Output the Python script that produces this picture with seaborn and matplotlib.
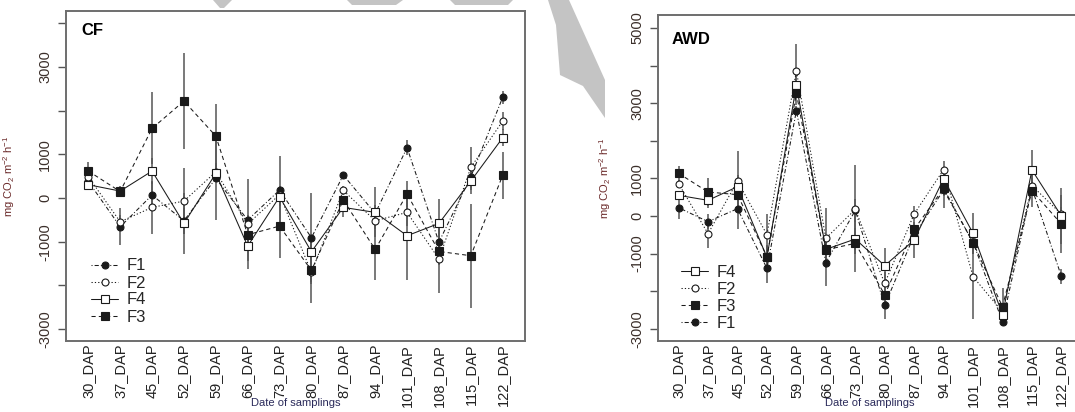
import numpy as np
import pandas as pd
import seaborn as sns
import matplotlib.pyplot as plt
from matplotlib.lines import Line2D
from matplotlib.patches import Polygon

days = ['30_DAP', '37_DAP', '45_DAP', '52_DAP', '59_DAP', '66_DAP', '73_DAP',
        '80_DAP', '87_DAP', '94_DAP', '101_DAP', '108_DAP', '115_DAP', '122_DAP']

# CF panel, mg CO2 m-2 h-1
cf_f1 = [380, -656, 69, -520, 450, -503, 183, -907, 526, -350, 1152, -1007, 488, 2303]
cf_f2 = [488, -542, -213, -69, 600, -595, 80, -1700, 175, -519, -328, -1396, 701, 1762]
cf_f3 = [618, 150, 1594, 2219, 1419, -839, -641, -1655, -46, -1175, 92, -1221, -1319, 519]
cf_f4 = [305, 160, 618, -580, 564, -1098, 30, -1228, -213, -328, -862, -580, 389, 1380]
cf_f1_err = [100, 420, 300, 300, 950, 940, 790, 1015, 80, 200, 175, 300, 300, 150]
cf_f2_err = [100, 150, 610, 750, 200, 200, 200, 690, 100, 200, 300, 765, 460, 200]
cf_f3_err = [210, 100, 825, 1100, 725, 200, 740, 300, 100, 700, 300, 300, 1190, 540]
cf_f4_err = [100, 120, 300, 690, 200, 535, 200, 300, 215, 570, 1015, 565, 300, 200]

# AWD panel
awd_f1 = [222, -151, 195, -1392, 2802, -1241, 150, -2376, -505, 692, -700, -2811, 740, -1605]
awd_f2 = [860, -470, 931, -496, 3857, -594, 177, -1791, 53, 1233, -1614, -2550, 807, 50]
awd_f3 = [1135, 638, 568, -1082, 3263, -900, -727, -2093, -355, 736, -709, -2412, 674, -213]
awd_f4 = [550, 417, 780, -1100, 3476, -887, -612, -1321, -638, 993, -461, -2625, 1224, 0]
awd_f1_err = [310, 200, 550, 400, 115, 620, 300, 365, 200, 470, 300, 90, 200, 190]
awd_f2_err = [100, 390, 800, 540, 720, 800, 1180, 300, 215, 230, 1125, 200, 200, 200]
awd_f3_err = [205, 380, 300, 300, 300, 300, 755, 300, 200, 200, 300, 505, 445, 780]
awd_f4_err = [100, 200, 300, 300, 300, 300, 300, 480, 490, 200, 550, 200, 530, 754]

sns.set_theme(style='white')
plt.rcParams['font.family'] = ['Liberation Sans', 'DejaVu Sans']
plt.rcParams['mathtext.default'] = 'regular'

ink = '#1a1a1a'
styles = {
    'F1': dict(linestyle=(0, (1, 2, 4, 2)), marker='o', markersize=5, markerfacecolor=ink),
    'F2': dict(linestyle=(0, (1.2, 2)), marker='o', markersize=5, markerfacecolor='white'),
    'F3': dict(linestyle=(0, (4, 3)), marker='s', markersize=5.5, markerfacecolor=ink),
    'F4': dict(linestyle='-', marker='s', markersize=5.5, markerfacecolor='white'),
}


def draw_panel(ax, vals, errs, title, title_xy, order, ylim, yticks, ylabels, leg_anchor):
    x = np.arange(len(days))
    for name in vals:
        v = np.array(vals[name])
        e = np.array(errs[name])
        ax.vlines(x, v - e, v + e, color='#555555', lw=1.1, zorder=1)
    for name in ['F1', 'F2', 'F4', 'F3']:
        df = pd.DataFrame({'pos': x, 'flux': vals[name]})
        sns.lineplot(data=df, x='pos', y='flux', ax=ax, color=ink, linewidth=0.75,
                     markeredgecolor=ink, markeredgewidth=0.8, errorbar=None,
                     sort=False, zorder=3, **styles[name])
    ax.set_xlim(-0.7, 13.7)
    ax.set_ylim(*ylim)
    ax.set_xticks(x)
    ax.set_xticklabels(days, rotation=90, va='top', ha='center')
    ax.set_yticks(yticks)
    ax.set_yticklabels(ylabels, rotation=90, va='center')
    ax.tick_params(axis='y', length=6, width=1, color='#555555', pad=4,
                   labelsize=10.5, labelcolor='#3b2f2a', left=True)
    ax.tick_params(axis='x', length=0, pad=2, labelsize=10.5, labelcolor='#222222')
    for sp in ax.spines.values():
        sp.set_visible(True)
        sp.set_color('#6e6e6e')
        sp.set_linewidth(1.4)
    ax.set_ylabel(r'mg CO$_2$ m$^{-2}$ h$^{-1}$', fontsize=8, color='#6b2a2a')
    ax.yaxis.set_label_coords(-0.107, 0.5)
    ax.set_xlabel('Date of samplings', fontsize=8, color='#2a2a5a')
    ax.xaxis.set_label_coords(0.5, -0.172)
    ax.text(title_xy[0], title_xy[1], title, transform=ax.transAxes,
            fontsize=12, fontweight='bold', va='top', ha='left', color='black')
    handles = [Line2D([], [], color=ink, linewidth=0.75, markeredgecolor=ink,
                      markeredgewidth=0.8, **styles[n]) for n in order]
    ax.legend(handles, order, loc='lower left', bbox_to_anchor=leg_anchor,
              frameon=False, handlelength=1.6, labelspacing=0.12,
              handletextpad=0.5, borderaxespad=0, borderpad=0, fontsize=12)


fig = plt.figure(figsize=(10.75, 4.12), dpi=100)
W, H = 1075, 412
ax1 = fig.add_axes([66 / W, 1 - 341 / H, 459 / W, 330 / H])
ax2 = fig.add_axes([658 / W, 1 - 341 / H, 424 / W, 326 / H])

draw_panel(ax1,
           {'F1': cf_f1, 'F2': cf_f2, 'F3': cf_f3, 'F4': cf_f4},
           {'F1': cf_f1_err, 'F2': cf_f2_err, 'F3': cf_f3_err, 'F4': cf_f4_err},
           'CF', (0.033, 0.965), ['F1', 'F2', 'F4', 'F3'], (-3270, 4280),
           [-3000, -2000, -1000, 0, 1000, 2000, 3000, 4000],
           ['-3000', '', '-1000', '0', '1000', '', '3000', ''], (0.055, 0.05))

draw_panel(ax2,
           {'F1': awd_f1, 'F2': awd_f2, 'F3': awd_f3, 'F4': awd_f4},
           {'F1': awd_f1_err, 'F2': awd_f2_err, 'F3': awd_f3_err, 'F4': awd_f4_err},
           'AWD', (0.031, 0.948), ['F4', 'F2', 'F3', 'F1'], (-3324, 5346),
           [-3000, -2000, -1000, 0, 1000, 2000, 3000, 4000, 5000],
           ['-3000', '', '-1000', '0', '1000', '', '3000', '', '5000'], (0.055, 0.03))
ax2.xaxis.set_label_coords(0.5, -0.175)
ax2.yaxis.set_label_coords(-0.106, 0.5)

# grey watermark fragments in the original scan
shapes = [
    [(548, 0), (569, 0), (605, 80), (605, 118), (583, 86), (560, 75), (556, 25)],
    [(347, 0), (403, 0), (396, 5), (352, 5)],
    [(450, 0), (513, 0), (508, 5), (455, 5)],
    [(213, 0), (232, 0), (224, 8), (220, 8)],
]
for pts in shapes:
    fig.patches.append(Polygon([(px / W, 1 - py / H) for px, py in pts], closed=True,
                               transform=fig.transFigure, facecolor='#c4c4c4',
                               edgecolor='none', zorder=0))

fig.savefig('out.png', dpi=100)
